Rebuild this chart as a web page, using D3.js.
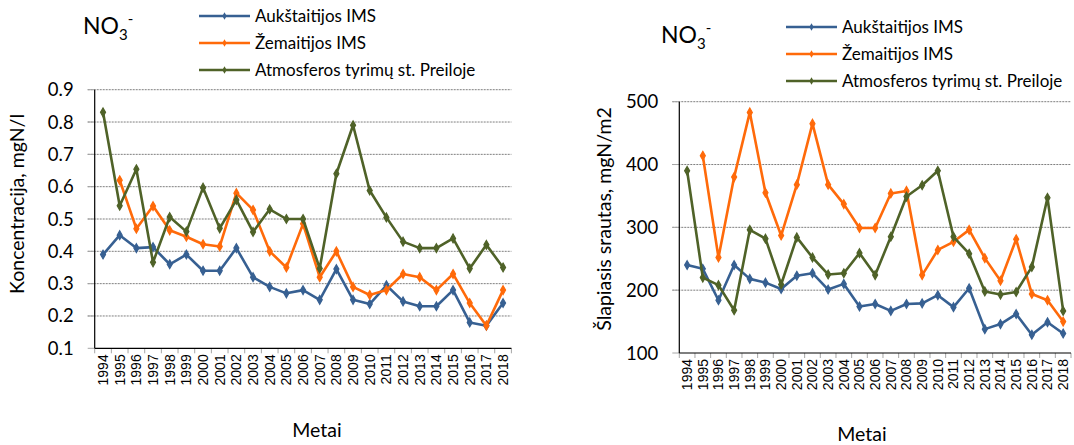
<!DOCTYPE html>
<html>
<head>
<meta charset="utf-8">
<script src="https://cdn.jsdelivr.net/npm/d3@7"></script>
<style>
  html, body { margin: 0; padding: 0; background: #fff; }
  svg { display: block; }
  text { font-family: Lato, "Open Sans", sans-serif; fill: #000; }
  .yr { font-family: "Liberation Sans", Arial, sans-serif; }
</style>
</head>
<body>
<svg id="chart" width="1074" height="445"></svg>
<script>
// ---------- data ----------
const years = ["1994","1995","1996","1997","1998","1999","2000","2001","2002","2003","2004","2005","2006",
               "2007","2008","2009","2010","2011","2012","2013","2014","2015","2016","2017","2018"];
const seriesNames = ["Aukštaitijos IMS", "Žemaitijos IMS", "Atmosferos tyrimų st. Preiloje"];

// concentration, mgN/l
const concAuk = [0.39,0.45,0.41,0.413,0.36,0.39,0.34,0.34,0.41,0.32,0.29,0.27,0.28,
                 0.25,0.345,0.25,0.237,0.295,0.245,0.23,0.23,0.28,0.18,0.17,0.24];
const concZem = [null,0.62,0.47,0.54,0.465,0.445,0.422,0.415,0.58,0.528,0.40,0.35,0.485,
                 0.32,0.40,0.29,0.265,0.28,0.33,0.32,0.28,0.33,0.24,0.17,0.28];
const concPre = [0.83,0.541,0.654,0.366,0.506,0.461,0.597,0.471,0.559,0.46,0.53,0.50,0.50,
                 0.347,0.64,0.79,0.588,0.505,0.43,0.41,0.41,0.44,0.347,0.42,0.35];

// wet deposition flux, mgN/m2
const fluxAuk = [240,234,184,240,218,212,202,223,227,201,210,174,178,
                 167,178,179,192,173,203,138,146,162,129,149,131];
const fluxZem = [null,414,252,380,483,355,287,368,465,368,337,299,299,
                 354,358,224,264,277,296,251,215,281,194,184,150];
const fluxPre = [390,220,208,168,296,282,209,284,252,225,227,259,224,
                 285,349,367,390,285,258,198,193,197,237,347,167];

const concTicks = [0.1,0.2,0.3,0.4,0.5,0.6,0.7,0.8,0.9];
const fluxTicks = [100,200,300,400,500];

const colors = ["#376092", "#FF6A0A", "#4F6228"];

const svg = d3.select("#chart");

function drawChart(cfg) {
  const g = svg.append("g");
  const x = d3.scaleBand().domain(years).range([cfg.x0, cfg.x1]);
  const y = d3.scaleLinear().domain(cfg.domain).range([cfg.y0, cfg.y1]);

  // gridlines
  g.selectAll(".grid").data(cfg.ticks).enter().append("line")
    .attr("x1", cfg.x0 - 7).attr("x2", cfg.x1)
    .attr("y1", d => y(d)).attr("y2", d => y(d))
    .attr("stroke", d => d === cfg.domain[0] ? "none" : "#7f7f7f")
    .attr("stroke-width", 1)
    .attr("stroke-dasharray", "2,1");

  // y tick marks
  g.selectAll(".ytk").data(cfg.ticks).enter().append("line")
    .attr("x1", cfg.x0 - 7).attr("x2", cfg.x0)
    .attr("y1", d => y(d)).attr("y2", d => y(d))
    .attr("stroke", "#a6a6a6").attr("stroke-width", 1);

  // y tick labels
  g.selectAll(".ylab").data(cfg.ticks).enter().append("text")
    .attr("x", cfg.x0 - 21).attr("y", d => y(d) + 6.5)
    .attr("text-anchor", "end")
    .style("font-size", "18.5px")
    .text(d => cfg.fmt(d));

  // x ticks at band boundaries
  const bounds = years.map(d => x(d)).concat([cfg.x1]);
  g.selectAll(".xtk").data(bounds).enter().append("line")
    .attr("x1", d => d).attr("x2", d => d)
    .attr("y1", cfg.y0).attr("y2", cfg.y0 + 5)
    .attr("stroke", "#a6a6a6").attr("stroke-width", 1);

  // axes lines
  g.append("line").attr("x1", cfg.x0).attr("x2", cfg.x0)
    .attr("y1", cfg.y1).attr("y2", cfg.y0)
    .attr("stroke", "#000").attr("stroke-width", 1.2);
  g.append("line").attr("x1", cfg.x0).attr("x2", cfg.x1)
    .attr("y1", cfg.y0).attr("y2", cfg.y0)
    .attr("stroke", "#000").attr("stroke-width", 1.2);

  // year labels
  g.selectAll(".yr").data(years).enter().append("text")
    .attr("class", "yr")
    .attr("transform", d => `translate(${x(d) + x.bandwidth() / 2 + 5},${cfg.y0 + 6}) rotate(-90)`)
    .attr("text-anchor", "end")
    .style("font-size", "14px")
    .text(d => d);

  // series
  const line = d3.line()
    .defined(d => d != null)
    .x((d, i) => x(years[i]) + x.bandwidth() / 2)
    .y(d => y(d));
  const sym = d3.symbol().type(d3.symbolDiamond).size(22);
  cfg.series.forEach((vals, si) => {
    g.append("path").datum(vals)
      .attr("d", line)
      .attr("fill", "none")
      .attr("stroke", colors[si])
      .attr("stroke-width", 2.6)
      .attr("stroke-linejoin", "round");
    g.selectAll(".m" + si).data(vals.map((v, i) => [v, i]).filter(p => p[0] != null))
      .enter().append("path")
      .attr("d", sym)
      .attr("transform", p => `translate(${x(years[p[1]]) + x.bandwidth() / 2},${y(p[0])})`)
      .attr("fill", colors[si])
      .attr("stroke", colors[si])
      .attr("stroke-width", 1.2);
  });

  // title NO3-
  const t = g.append("text").attr("x", cfg.titleX).attr("y", cfg.titleY).style("font-size", "23px");
  t.append("tspan").text("NO");
  t.append("tspan").attr("dy", 6).style("font-size", "15px").text("3");
  t.append("tspan").attr("dy", -16).style("font-size", "15px").text("-");

  // legend
  seriesNames.forEach((name, i) => {
    const ly = cfg.legY + i * cfg.legDy;
    g.append("line").attr("x1", cfg.legX).attr("x2", cfg.legX + 51)
      .attr("y1", ly).attr("y2", ly)
      .attr("stroke", colors[i]).attr("stroke-width", 2.6);
    g.append("path").attr("d", d3.symbol().type(d3.symbolDiamond).size(16))
      .attr("transform", `translate(${cfg.legX + 25.5},${ly})`)
      .attr("fill", colors[i]);
    g.append("text").attr("x", cfg.legX + 56).attr("y", ly + 6)
      .style("font-size", "17px").text(name);
  });

  // axis titles
  g.append("text")
    .attr("transform", `translate(${cfg.yTitleX},${cfg.yTitleY}) rotate(-90)`)
    .attr("text-anchor", "middle").style("font-size", "19.5px")
    .text(cfg.yTitle);
  g.append("text").attr("x", cfg.xTitleX).attr("y", cfg.xTitleY)
    .attr("text-anchor", "middle").style("font-size", "19.5px")
    .text("Metai");
}

drawChart({
  x0: 94.7, x1: 511.4, y0: 348.3, y1: 89.7,
  domain: [0.1, 0.9], ticks: concTicks, fmt: d3.format(".1f"),
  series: [concAuk, concZem, concPre],
  titleX: 83, titleY: 34,
  legX: 199, legY: 16, legDy: 27,
  yTitle: "Koncentracija, mgN/l", yTitleX: 24, yTitleY: 204,
  xTitleX: 317, xTitleY: 437
});

drawChart({
  x0: 679.3, x1: 1071, y0: 353, y1: 101.7,
  domain: [100, 500], ticks: fluxTicks, fmt: d3.format("d"),
  series: [fluxAuk, fluxZem, fluxPre],
  titleX: 661, titleY: 43,
  legX: 786, legY: 27, legDy: 27,
  yTitle: "Šlapiasis srautas, mgN/m2", yTitleX: 611, yTitleY: 219,
  xTitleX: 862, xTitleY: 441
});
</script>
</body>
</html>
